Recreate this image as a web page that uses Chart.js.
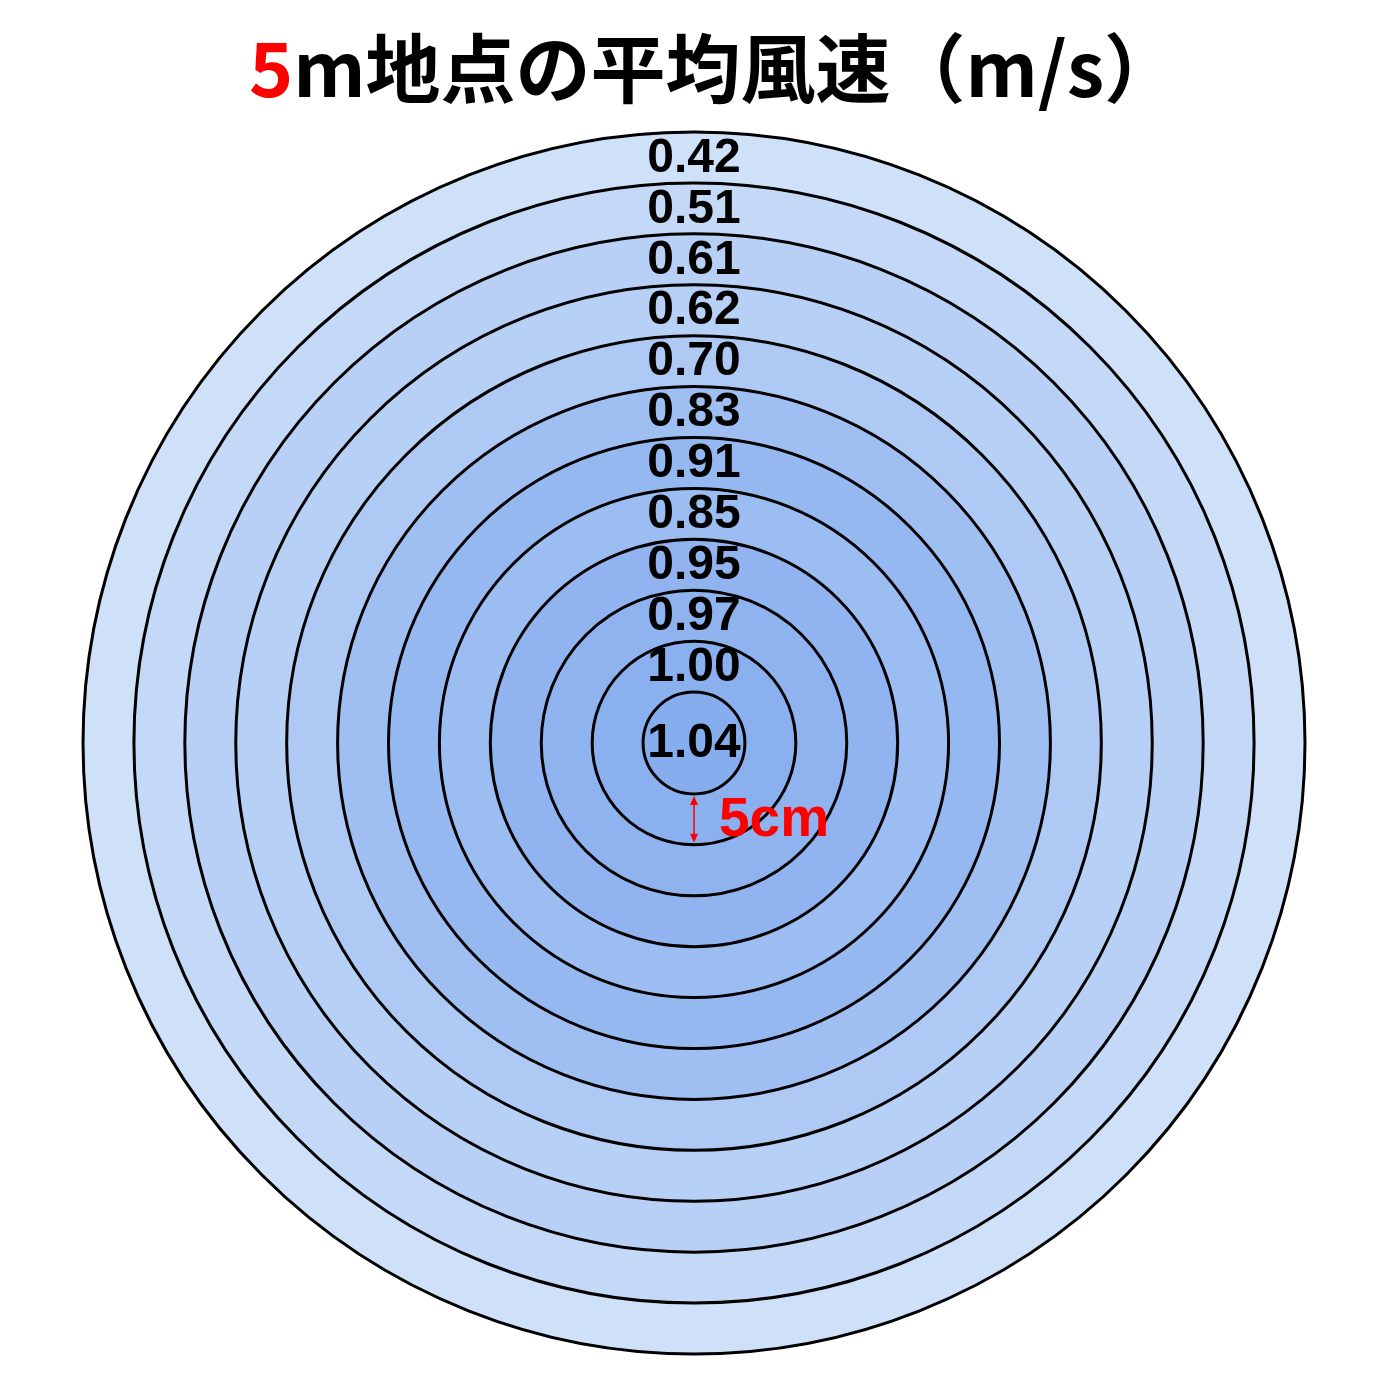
<!DOCTYPE html>
<html>
<head>
<meta charset="utf-8">
<title>5m地点の平均風速</title>
<script src="https://cdn.jsdelivr.net/npm/chart.js@4.4.1/dist/chart.umd.min.js"></script>
<style>
    html, body { margin: 0; padding: 0; background: #ffffff; }
    #rings { display: block; }
</style>
</head>
<body>
<canvas id="rings" width="1400" height="1400"></canvas>
<script>
// outer edge of each ring, measured from the centre (cm)
var aDistances = [5, 10, 15, 20, 25, 30, 35, 40, 45, 50, 55, 60];
// mean wind speed inside each ring, centre outwards (m/s)
var aSpeeds = [1.04, 1.00, 0.97, 0.95, 0.85, 0.91, 0.83, 0.70, 0.62, 0.61, 0.51, 0.42];
var aTitleParts = ['5', 'm地点の平均風速（m/s）'];
var sStepLabel = '5cm';

var oRings = {
    init: function () {
        oRings.draw();
    },

    // lighter blue for slow rings, deeper blue for fast ones
    speedColor: function (fSpeed) {
        var fMin = Math.min.apply(null, aSpeeds);
        var fMax = Math.max.apply(null, aSpeeds);
        var t = (fSpeed - fMin) / (fMax - fMin);
        var aLight = [207, 224, 249];
        var aDark = [134, 173, 238];
        var aRgb = [];
        for (var i = 0; i < 3; i++) {
            aRgb.push(Math.round(aLight[i] + (aDark[i] - aLight[i]) * t));
        }
        return 'rgb(' + aRgb.join(',') + ')';
    },

    buildDatasets: function () {
        var aSets = [];
        for (var i = 0; i < aDistances.length; i++) {
            aSets.push({
                label: aSpeeds[i].toFixed(2),
                data: [aDistances[i]],
                backgroundColor: oRings.speedColor(aSpeeds[i]),
                borderWidth: 0
            });
        }
        return aSets;
    },

    labelPlugin: {
        id: 'ringLabels',
        afterDraw: function (chart) {
            var ctx = chart.ctx;
            var oScale = chart.scales.r;
            var x = oScale.xCenter;
            var y = oScale.yCenter;

            // title, first character in red
            ctx.save();
            ctx.font = 'bold 75px "Noto Sans CJK JP", sans-serif';
            ctx.textBaseline = 'alphabetic';
            ctx.textAlign = 'left';
            var fW0 = ctx.measureText(aTitleParts[0]).width;
            var fW1 = ctx.measureText(aTitleParts[1]).width;
            var fLeft = 714 - (fW0 + fW1) / 2;
            ctx.fillStyle = '#ff0000';
            ctx.fillText(aTitleParts[0], fLeft, 97);
            ctx.fillStyle = '#000000';
            ctx.fillText(aTitleParts[1], fLeft + fW0, 97);

            // speed values, one per ring
            ctx.font = 'bold 48px "Liberation Sans", Arial, sans-serif';
            ctx.textAlign = 'center';
            ctx.textBaseline = 'middle';
            ctx.fillStyle = '#000000';
            for (var i = 0; i < aSpeeds.length; i++) {
                var fY = y;
                if (i > 0) {
                    var fIn = oScale.getDistanceFromCenterForValue(aDistances[i - 1]);
                    var fOut = oScale.getDistanceFromCenterForValue(aDistances[i]);
                    fY = y - (fIn + fOut) / 2;
                }
                ctx.fillText(aSpeeds[i].toFixed(2), x, fY + 1);
            }

            // ring width marker below the centre
            var fTop = y + oScale.getDistanceFromCenterForValue(aDistances[0]) + 2;
            var fBottom = y + oScale.getDistanceFromCenterForValue(aDistances[1]) - 2;
            ctx.strokeStyle = '#ff0000';
            ctx.fillStyle = '#ff0000';
            ctx.lineWidth = 1.5;
            ctx.beginPath();
            ctx.moveTo(x, fTop + 6);
            ctx.lineTo(x, fBottom - 6);
            ctx.stroke();
            ctx.beginPath();
            ctx.moveTo(x, fTop);
            ctx.lineTo(x - 4, fTop + 9);
            ctx.lineTo(x + 4, fTop + 9);
            ctx.closePath();
            ctx.fill();
            ctx.beginPath();
            ctx.moveTo(x, fBottom);
            ctx.lineTo(x - 4, fBottom - 9);
            ctx.lineTo(x + 4, fBottom - 9);
            ctx.closePath();
            ctx.fill();

            ctx.font = 'bold 55px "Liberation Sans", Arial, sans-serif';
            ctx.textAlign = 'left';
            ctx.fillText(sStepLabel, x + 25, (fTop + fBottom) / 2 + 1);
            ctx.restore();
        }
    },

    draw: function () {
        var ctx = document.getElementById('rings').getContext('2d');
        var oChart = new Chart(ctx, {
            type: 'polarArea',
            data: {
                labels: ['平均風速'],
                datasets: oRings.buildDatasets()
            },
            options: {
                responsive: false,
                animation: false,
                layout: {
                    padding: { left: 83, right: 95, top: 132, bottom: 46 }
                },
                plugins: {
                    legend: { display: false },
                    title: { display: false },
                    tooltip: { enabled: false }
                },
                scales: {
                    r: {
                        min: 0,
                        max: 60,
                        ticks: { stepSize: 5, display: false },
                        grid: { circular: true, color: '#000000', lineWidth: 3, z: 1 },
                        angleLines: { display: false },
                        pointLabels: { display: false }
                    }
                }
            },
            plugins: [oRings.labelPlugin]
        });
    }
};

oRings.init();
</script>
</body>
</html>
